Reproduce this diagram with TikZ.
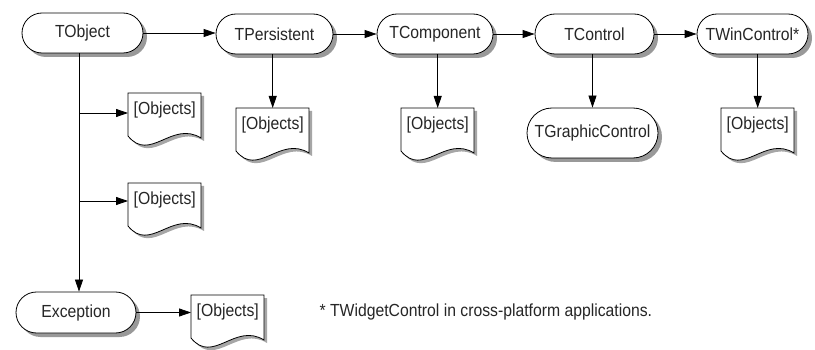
\documentclass[tikz,border=0pt]{standalone}
\usepackage{fontspec}
\setmainfont{Liberation Sans}
\newfontfamily\lblfont[FakeStretch=0.9]{Liberation Sans}
\usetikzlibrary{arrows.meta,shapes.misc,shadows,calc}

\tikzset{
  lbl/.style={font=\lblfont\fontsize{17.5}{20}\selectfont, text=black!85},
  stadium/.style={lbl, rounded rectangle, draw=black, line width=0.8pt,
    fill=white, minimum height=40pt, inner xsep=4pt,
    drop shadow={shadow xshift=4pt, shadow yshift=-4pt, fill=black!40, opacity=1}},
  docbox/.style={lbl, minimum width=73pt, minimum height=40pt, inner sep=0pt,
    text height=13pt, text depth=11pt},
  docline/.style={draw=black, line width=0.8pt, fill=white},
  docshadow/.style={fill=black!35, draw=none},
  arr/.style={line width=0.8pt, -{Triangle[length=12pt,width=8pt]}},
}

% A document symbol (wavy bottom) whose top-left corner sits at #2
\newcommand\objdoc[2]{%
  \begin{scope}[shift={(#2)}]
    \path[docshadow, shift={(3,3)}] (0,0) -- (73,0) -- (73,45)
      .. controls (44,27) and (22,70) .. (0,43) -- cycle;
    \path[docline] (0,0) -- (73,0) -- (73,45)
      .. controls (44,27) and (22,70) .. (0,43) -- cycle;
  \end{scope}
  \node[docbox, anchor=north west] (#1) at (#2) {[Objects]};
}

\begin{document}
\begin{tikzpicture}[x=1pt, y=-1pt]
  \useasboundingbox[fill=white] (0,0) rectangle (815,350);

  % class chain
  \node[stadium, minimum width=129pt] (tobj)  at (82.5,33)  {TObject};
  \node[stadium, minimum width=125pt] (tpers) at (274.5,34) {TPersistent};
  \node[stadium, minimum width=124pt] (tcomp) at (435,34)   {TComponent};
  \node[stadium, minimum width=127pt] (tctrl) at (594.5,34) {TControl};
  \node[stadium, minimum width=119pt] (twin)  at (752.5,34) {TWinControl*};
  \node[stadium, minimum width=139pt, minimum height=50pt] (tgraph) at (592.5,133) {TGraphicControl};
  \node[stadium, minimum width=128pt, minimum height=41pt] (exc) at (76,312.5) {Exception};

  % object documents
  \objdoc{d1}{128,93}
  \objdoc{d2}{128,183}
  \objdoc{dpers}{236,108}
  \objdoc{dcomp}{401,108}
  \objdoc{dwin}{721,108}
  \objdoc{dexc}{191,295}

  % horizontal chain arrows
  \draw[arr] (tobj.east)  -- (tobj.east -| tpers.west);
  \draw[arr] (tpers.east) -- (tpers.east -| tcomp.west);
  \draw[arr] (tcomp.east) -- (tcomp.east -| tctrl.west);
  \draw[arr] (tctrl.east) -- (tctrl.east -| twin.west);

  % downward arrows
  \draw[arr] (tpers.south -| dpers.north) -- (dpers.north);
  \draw[arr] (tcomp.south -| dcomp.north) -- (dcomp.north);
  \draw[arr] (tctrl.south -| tgraph.north) -- (tgraph.north);
  \draw[arr] (twin.south -| dwin.north) -- (dwin.north);

  % trunk from TObject to Exception with its branches
  \coordinate (trunk) at (79,52);
  \coordinate (b1) at (79,113);
  \coordinate (b2) at (79,201);
  \draw[arr] (trunk |- tobj.south) -- (trunk |- exc.north);
  \draw[arr] (b1) -- (b1 -| d1.west);
  \draw[arr] (b2) -- (b2 -| d2.west);
  \draw[arr] (exc.east) -- (exc.east -| dexc.west);

  % footnote
  \node[lbl, anchor=west] (note) at (316,312) {* TWidgetControl in cross-platform applications.};
\end{tikzpicture}
\end{document}
